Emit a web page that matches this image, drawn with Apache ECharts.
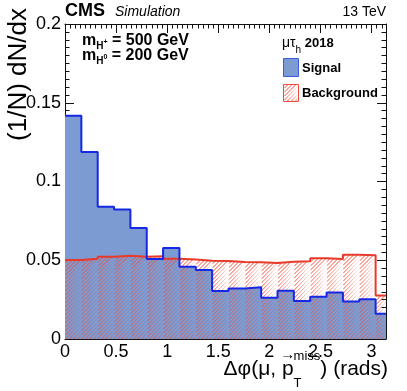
<!DOCTYPE html>
<html>
<head>
<meta charset="utf-8">
<script src="https://cdn.jsdelivr.net/npm/echarts@6/dist/echarts.min.js"></script>
<style>
html, body { margin: 0; padding: 0; background: #fff; }
#chart { width: 407px; height: 391px; }
</style>
</head>
<body>
<div id="chart"></div>
<script>
// lower edges of the bins (width 0.16), axis is cut at pi
var binLow = [0, 0.16, 0.32, 0.48, 0.64, 0.8, 0.96, 1.12, 1.28, 1.44,
              1.6, 1.76, 1.92, 2.08, 2.24, 2.4, 2.56, 2.72, 2.88, 3.04];
var signal = [0.1418, 0.1187, 0.0840, 0.0823, 0.0705, 0.0508, 0.0578, 0.0459, 0.0438, 0.0305,
              0.0320, 0.0328, 0.0262, 0.0307, 0.0242, 0.0269, 0.0296, 0.0238, 0.0252, 0.0160];
var background = [0.0502, 0.0510, 0.0523, 0.0529, 0.0523, 0.0525, 0.0510, 0.0504, 0.0497, 0.0495,
                  0.0489, 0.0487, 0.0483, 0.0491, 0.0494, 0.0513, 0.0508, 0.0535, 0.0531, 0.0276];
var xTickLabels = ['0', '0.5', '1', '1.5', '2', '2.5', '3'];
var yTickLabels = ['0', '0.05', '0.1', '0.15', '0.2'];
var xMax = Math.PI;

var FONT = '"Liberation Sans", Arial, Helvetica, sans-serif';
var blueFill = '#7b9bd2';
var blueLine = '#1428e6';
var redLine = '#e8392a';
var hatchColor = '#f0503c';

function stepData(vals) {
    var d = binLow.map(function(x, i) { return [x, vals[i]]; });
    d.push([xMax, vals[vals.length - 1]]);
    return d;
}

// "/" hatching inside a pixel rectangle (x0,y0 top-left), lines x+y=c
// drawn as thin filled strips (patterns came out black in this renderer)
function hatchLines(x0, y0, x1, y1, step) {
    var out = [];
    var c = Math.ceil((x0 + y0) / step) * step;
    var t = 1;
    for (; c <= x1 + y1; c += step) {
        var xa = Math.max(x0, c - y1), xb = Math.min(x1, c - y0);
        if (xb > xa) {
            out.push({ type: 'polygon',
                       shape: { points: [[xa, c - xa], [xb, c - xb],
                                         [Math.min(xb + t, x1), c - xb], [Math.min(xa + t, x1), c - xa]] },
                       style: { fill: hatchColor } });
        }
    }
    return out;
}

var mctx = document.createElement('canvas').getContext('2d');
function fontStr(p) {
    return (p.style || 'normal') + ' ' + (p.weight || 'normal') + ' ' + p.size + 'px ' + FONT;
}
function textW(t, font) { mctx.font = font; return mctx.measureText(t).width; }

// lays text pieces left to right, y is the middle of the main line
function runs(x, y, parts) {
    var out = [];
    var stackW = 0;
    parts.forEach(function(p) {
        var f = fontStr(p);
        var wd = textW(p.t, f);
        out.push({
            type: 'text', x: x, y: y + (p.dy || 0), silent: true,
            style: { text: p.t, font: f, fill: p.color || '#000',
                     align: 'left', verticalAlign: 'middle',
                     textAlign: 'left', textVerticalAlign: 'middle' }
        });
        if (p.stack) {
            stackW = Math.max(stackW, wd);
        } else {
            x += Math.max(wd, stackW);
            stackW = 0;
        }
    });
    return out;
}
function runsWidth(parts) {
    var x = 0, stackW = 0;
    parts.forEach(function(p) {
        var wd = textW(p.t, fontStr(p));
        if (p.stack) stackW = Math.max(stackW, wd);
        else { x += Math.max(wd, stackW); stackW = 0; }
    });
    return x;
}

var chart = echarts.init(document.getElementById('chart'), null, { renderer: 'canvas' });

var axisCommon = {
    type: 'value',
    splitLine: { show: false },
    axisLine: { show: true, onZero: false, lineStyle: { color: '#111', width: 1 } },
    axisTick: { show: true, inside: true, length: 9, lineStyle: { color: '#111' } },
    minorTick: { show: true, splitNumber: 10, length: 4.5, lineStyle: { color: '#111' } }
};

function xAxis(pos, labels) {
    return Object.assign({}, axisCommon, {
        position: pos, min: 0, max: xMax, interval: 0.5,
        axisLabel: {
            show: labels, showMaxLabel: false, margin: 4,
            color: '#000', fontFamily: FONT, fontSize: 18,
            formatter: function(v) {
                var i = Math.round(v / 0.5);
                return xTickLabels[i] !== undefined ? xTickLabels[i] : '';
            }
        }
    });
}
function yAxis(pos, labels) {
    return Object.assign({}, axisCommon, {
        position: pos, min: 0, max: 0.2, interval: 0.05,
        axisLabel: {
            show: labels, margin: 4,
            color: '#000', fontFamily: FONT, fontSize: 18,
            formatter: function(v) { return yTickLabels[Math.round(v / 0.05)]; }
        }
    });
}

// axis title pieces
var xTitle = [
    { t: 'Δφ(μ, ', size: 21 },
    { t: 'p', size: 21 },
    { t: 'T', size: 13, dy: 14, stack: true },
    { t: 'miss', size: 13, dy: -13 },
    { t: ') (rads)', size: 21 }
];
var xTitleW = runsWidth(xTitle);
var xTitleX = 388 - xTitleW;
var pX = xTitleX + textW('Δφ(μ, ', fontStr({ size: 21 }));
var pW = textW('p', fontStr({ size: 21 }));

var graphics = [];
graphics = graphics.concat(runs(xTitleX, 369, xTitle));
graphics.push({
    type: 'text', x: pX + pW / 2, y: 355, silent: true,
    style: { text: '→', font: fontStr({ size: 15 }), fill: '#000',
             align: 'center', verticalAlign: 'middle',
             textAlign: 'center', textVerticalAlign: 'middle' }
});
graphics.push({
    type: 'text', x: 19, y: 8, rotation: Math.PI / 2, silent: true,
    style: { text: '(1/N) dN/dx', font: fontStr({ size: 26 }), fill: '#000',
             align: 'right', verticalAlign: 'middle',
             textAlign: 'right', textVerticalAlign: 'middle' }
});
// header
graphics = graphics.concat(runs(65, 11, [{ t: 'CMS', size: 18, weight: 'bold' }]));
graphics = graphics.concat(runs(115, 12, [{ t: 'Simulation', size: 14, style: 'italic' }]));
graphics.push({
    type: 'text', x: 386, y: 12, silent: true,
    style: { text: '13 TeV', font: fontStr({ size: 14 }), fill: '#000',
             align: 'right', verticalAlign: 'middle',
             textAlign: 'right', textVerticalAlign: 'middle' }
});
// mass labels
graphics = graphics.concat(runs(82, 41, [
    { t: 'm', size: 16, weight: 'bold' },
    { t: 'H', size: 10, weight: 'bold', dy: 5 },
    { t: '+', size: 7, weight: 'bold', dy: 1 },
    { t: ' = 500 GeV', size: 16, weight: 'bold' }
]));
graphics = graphics.concat(runs(82, 56, [
    { t: 'm', size: 16, weight: 'bold' },
    { t: 'H', size: 10, weight: 'bold', dy: 5 },
    { t: '0', size: 7, weight: 'bold', dy: 1 },
    { t: ' = 200 GeV', size: 16, weight: 'bold' }
]));
// legend
graphics = graphics.concat(runs(282, 43, [
    { t: 'μτ', size: 14 },
    { t: 'h', size: 10, dy: 7 },
    { t: ' 2018', size: 13, weight: 'bold' }
]));
graphics.push({
    type: 'rect', shape: { x: 283.5, y: 58.5, width: 15, height: 18 }, silent: true,
    style: { fill: blueFill, stroke: '#3a5be0', lineWidth: 1 }
});
graphics = graphics.concat(hatchLines(284, 85, 298, 101, 4));
graphics.push({
    type: 'rect', shape: { x: 283.5, y: 84.5, width: 15, height: 17 }, silent: true,
    style: { fill: 'none', stroke: '#f04a38', lineWidth: 1 }
});
graphics = graphics.concat(runs(302, 68, [{ t: 'Signal', size: 13, weight: 'bold' }]));
graphics = graphics.concat(runs(302, 93, [{ t: 'Background', size: 13, weight: 'bold' }]));

var bgBins = binLow.map(function(x, i) {
    var hi = i < binLow.length - 1 ? binLow[i + 1] : xMax;
    return [x, hi, background[i]];
});

chart.setOption({
    animation: false,
    backgroundColor: '#fff',
    grid: { left: 65, right: 21, top: 24, bottom: 52, containLabel: false },
    xAxis: [xAxis('bottom', true), xAxis('top', false)],
    yAxis: [yAxis('left', true), yAxis('right', false)],
    series: [
        {
            name: 'Signal fill', type: 'line', step: 'end', symbol: 'none', z: 1,
            data: stepData(signal),
            lineStyle: { opacity: 0 },
            areaStyle: { color: blueFill, opacity: 1 }
        },
        {
            name: 'Background hatch', type: 'custom', z: 2, clip: true,
            data: bgBins,
            encode: { x: [0, 1], y: 2 },
            renderItem: function(params, api) {
                var a = api.coord([api.value(0), api.value(2)]);
                var b = api.coord([api.value(1), 0]);
                return { type: 'group', children: hatchLines(a[0], a[1], b[0], b[1], 4) };
            }
        },
        {
            name: 'Background', type: 'line', step: 'end', symbol: 'none', z: 3,
            data: stepData(background),
            lineStyle: { color: redLine, width: 2 }
        },
        {
            name: 'Signal', type: 'line', step: 'end', symbol: 'none', z: 4,
            data: stepData(signal),
            lineStyle: { color: blueLine, width: 2 }
        }
    ],
    graphic: graphics
});
</script>
</body>
</html>
